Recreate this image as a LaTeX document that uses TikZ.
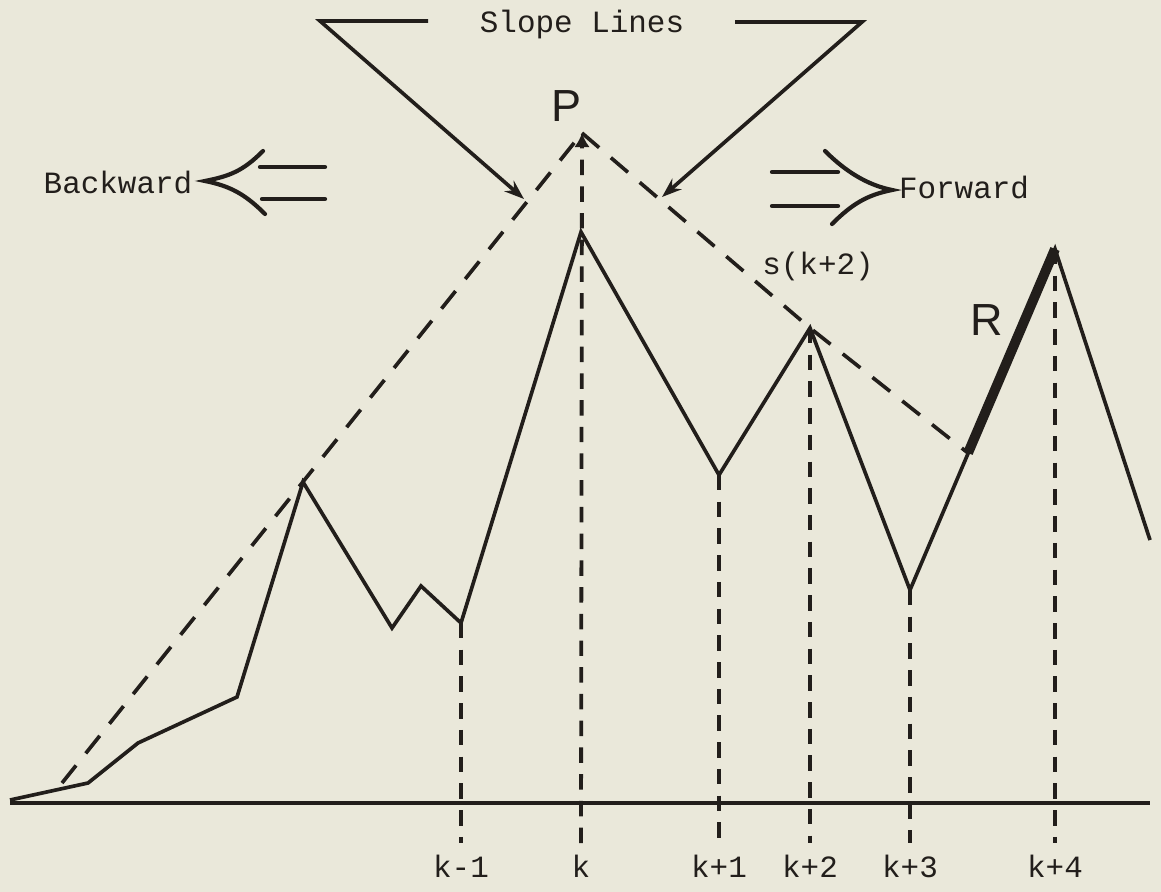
\documentclass[tikz,border=0pt]{standalone}
\usepackage{fontspec}
\setmonofont{Liberation Mono}
\setsansfont{Liberation Sans}
\usepackage{tikz}
\usetikzlibrary{arrows.meta}
\definecolor{paper}{HTML}{EAE8DA}
\definecolor{ink}{HTML}{221E1B}

\begin{document}
\begin{tikzpicture}[
  x=0.025cm, y=-0.025cm,
  curve/.style={draw=ink, line width=2.6pt, line join=miter},
  slope/.style={draw=ink, line width=2.6pt, dash pattern=on 16pt off 11pt},
  vline/.style={draw=ink, line width=2.7pt, dash pattern=on 11pt off 8pt},
  pointer/.style={draw=ink, line width=2.6pt, -{Stealth[length=14pt, width=10pt]}},
  dbl/.style={draw=ink, line width=3pt, line cap=round},
  txt/.style={font=\ttfamily\fontsize{22}{26}\selectfont, text=ink, inner sep=0pt},
  hand/.style={font=\sffamily\fontsize{32}{36}\selectfont, text=ink, inner sep=0pt}
]

% ===== Paper =====
\fill[paper] (0,0) rectangle (1161,892);
\useasboundingbox (0,0) rectangle (1161,892);

% ===== Points of the series =====
\coordinate (s0)   at (10,800);
\coordinate (s1)   at (88,783);
\coordinate (s2)   at (138,743);
\coordinate (s3)   at (237,697);
\coordinate (pk1)  at (303,482);
\coordinate (v1)   at (392,628);
\coordinate (pk2)  at (421,586);
\coordinate (km1)  at (461,623);
\coordinate (k0)   at (581,232);
\coordinate (kp1)  at (719,475);
\coordinate (kp2)  at (810,328);
\coordinate (kp3)  at (910,590);
\coordinate (kp4)  at (1055,249);
\coordinate (tail) at (1150,540);
\coordinate (rs)   at (968,453);
\coordinate (P)    at (582,133);
\coordinate (bs)   at (62,783);
\coordinate (ax0)  at (10,803);
\coordinate (ax1)  at (1150,803);
\coordinate (bot)  at (0,843);
\coordinate (lab)  at (0,866);

% ===== Axis and series =====
\draw[curve, line width=3pt] (ax0) -- (ax1);
\draw[curve] (s0) -- (s1) -- (s2) -- (s3) -- (pk1) -- (v1) -- (pk2) -- (km1)
  -- (k0) -- (kp1) -- (kp2) -- (kp3) -- (kp4) -- (tail);
\draw[ink, line width=7pt] (rs) -- (kp4);

% ===== Slope lines =====
\draw[slope] (bs) -- (P);
\draw[slope] (P) -- (kp2) -- (rs);

% ===== Sample positions =====
\foreach \n in {km1,kp1,kp2,kp3,kp4}{\draw[vline] (\n) -- (\n |- bot);}
\draw[vline, -{Latex[length=10pt, width=11pt]}] (k0 |- bot) -- (P);
\foreach \n/\t in {km1/k-1, k0/k, kp1/k+1, kp2/k+2, kp3/k+3, kp4/k+4}{%
  \node[txt] (l\n) at (\n |- lab) {\t};}

% ===== Labels =====
\node[txt] (slopelbl) at (582,25) {Slope Lines};
\node[txt] (back) at (118,182) {Backward};
\node[txt] (fwd) at (964,187) {Forward};
\node[txt] (sk2) at (818,267) {s(k+2)};
\node[hand] (plbl) at (566,106) {P};
\node[hand] (rlbl) at (987,320) {R};

% ===== Pointers to the slope lines =====
\coordinate (sl1) at (428,21);
\coordinate (sl2) at (320,21);
\coordinate (ta)  at (524,199);
\coordinate (sr1) at (735,22);
\coordinate (sr2) at (862,22);
\coordinate (tb)  at (662,197);
\draw[pointer] (sl1) -- (sl2) -- (ta);
\draw[pointer] (sr1) -- (sr2) -- (tb);

% ===== Direction arrows =====
\coordinate (bu)   at (263,151);
\coordinate (btip) at (205,181);
\coordinate (bl)   at (265,214);
\draw[dbl] (bu) .. controls +(-20,20) and +(25,-5) .. (btip)
  .. controls +(25,5) and +(-20,-20) .. (bl);
\draw[dbl] (260,167) -- (325,167);
\draw[dbl] (262,199) -- (325,199);

\coordinate (fu)   at (825,151);
\coordinate (ftip) at (892,190);
\coordinate (fl)   at (832,224);
\draw[dbl] (fu) .. controls +(20,20) and +(-25,-5) .. (ftip)
  .. controls +(-25,5) and +(20,-20) .. (fl);
\draw[dbl] (772,172) -- (838,172);
\draw[dbl] (772,206) -- (838,206);

\end{tikzpicture}
\end{document}
